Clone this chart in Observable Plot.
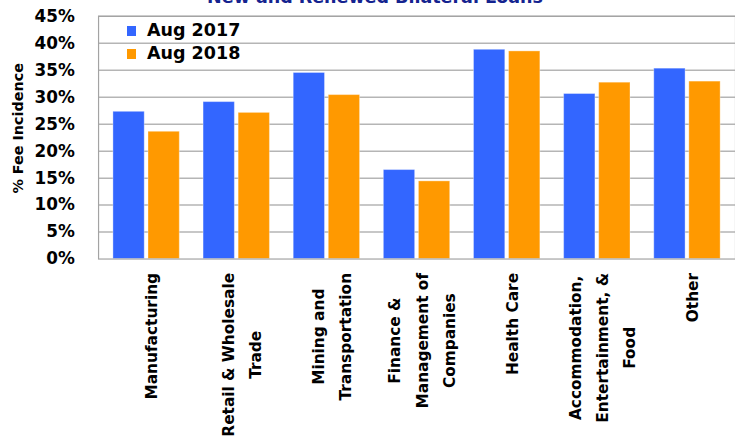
<!DOCTYPE html>
<html><head><meta charset="utf-8">
<script src="https://cdn.jsdelivr.net/npm/d3@7"></script>
<script src="https://cdn.jsdelivr.net/npm/@observablehq/plot@0.6"></script>
<style>
html,body{margin:0;padding:0;background:#fff;overflow:hidden;}
#wrap{position:relative;width:735px;height:447px;overflow:hidden;background:#fff;}
#title{position:absolute;top:-11px;left:375px;transform:translateX(-50%);white-space:nowrap;font:bold 17.5px "DejaVu Sans";line-height:17.5px;color:#14238f;z-index:2;}
.leg{position:absolute;left:127px;font:bold 17.5px "DejaVu Sans";line-height:17.5px;white-space:nowrap;color:#000;z-index:2;}
.leg .sw{display:inline-block;width:9px;height:10px;margin-right:11px;}
#chart{position:absolute;left:0;top:0;}
</style></head><body>
<div id="wrap"><div id="chart"></div><div id="title">New and Renewed Bilateral Loans</div><div id="legend"></div></div>
<script>
const categories = ["Manufacturing", "Retail & Wholesale\nTrade", "Mining and\nTransportation", "Finance &\nManagement of\nCompanies", "Health Care", "Accommodation,\nEntertainment, &\nFood", "Other"];
const series = ["Aug 2017", "Aug 2018"];
const aug2017 = [27.3, 29.1, 34.5, 16.5, 38.8, 30.6, 35.3];
const aug2018 = [23.6, 27.1, 30.4, 14.4, 38.5, 32.7, 32.9];
const yTicks = [0, 5, 10, 15, 20, 25, 30, 35, 40, 45];
const yTickLabels = ["0%", "5%", "10%", "15%", "20%", "25%", "30%", "35%", "40%", "45%"];
const seriesColors = ["#3366FF", "#FF9900"];
const yTitle = "% Fee Incidence";

const values = [aug2017, aug2018];
const rows = categories.flatMap((c, i) => series.map((s, k) => ({category: c, series: s, value: values[k][i]})));

const ctx = document.createElement("canvas").getContext("2d");
ctx.font = 'bold 15.5px "DejaVu Sans"';
const maxLen = c => Math.max(...c.split("\n").map(l => ctx.measureText(l).width));

const barW = 32, gap = 3.4;
const inset = barW + gap;

const marks = [
  Plot.ruleY(yTicks.slice(1), {y: d => d, stroke: "#b5b5b5", strokeWidth: 1.5}),
  ...series.map((s, k) => Plot.barY(rows.filter(d => d.series === s), {
    x: "category", y: "value", fill: seriesColors[k],
    insetLeft: k ? inset : 0, insetRight: k ? 0 : inset,
    stroke: "#ffffff", strokeOpacity: 0.35, strokeWidth: 1
  })),
  Plot.frame({stroke: "#a3a3a3", strokeWidth: 1.2}),
  Plot.text(yTicks, {y: d => d, text: (d, i) => yTickLabels[i], frameAnchor: "left", textAnchor: "end", dx: -24, fontSize: 17, fontWeight: "bold", fill: "#000"}),
  Plot.text([yTitle], {frameAnchor: "left", text: d => d, rotate: -90, textAnchor: "middle", lineAnchor: "middle", dx: -81, dy: -9.5, fontSize: 14.5, fontWeight: "bold", fill: "#000"}),
  ...categories.map(c => Plot.text([c], {
    x: d => d, text: d => d, frameAnchor: "bottom", rotate: -90,
    textAnchor: "middle", lineAnchor: "middle", lineHeight: 1.774,
    dy: 14 + maxLen(c) / 2, dx: 2, fontSize: 15.5, fontWeight: "bold", fill: "#000"
  }))
];

const chart = Plot.plot({
  width: 742, height: 447,
  marginLeft: 99, marginRight: 0, marginTop: 16, marginBottom: 186,
  style: {fontFamily: "DejaVu Sans", background: "white", overflow: "visible"},
  x: {domain: categories, paddingInner: 0.266, paddingOuter: 0.133, axis: null},
  y: {domain: [0, 45], axis: null},
  marks
});
document.getElementById("chart").appendChild(chart);

const legend = document.getElementById("legend");
series.forEach((s, k) => {
  const row = document.createElement("div");
  row.className = "leg";
  row.style.top = (k === 0 ? 21.9 : 45.2) + "px";
  const sw = document.createElement("span");
  sw.className = "sw";
  sw.style.background = seriesColors[k];
  row.appendChild(sw);
  row.appendChild(document.createTextNode(s));
  legend.appendChild(row);
});
</script>
</body></html>
